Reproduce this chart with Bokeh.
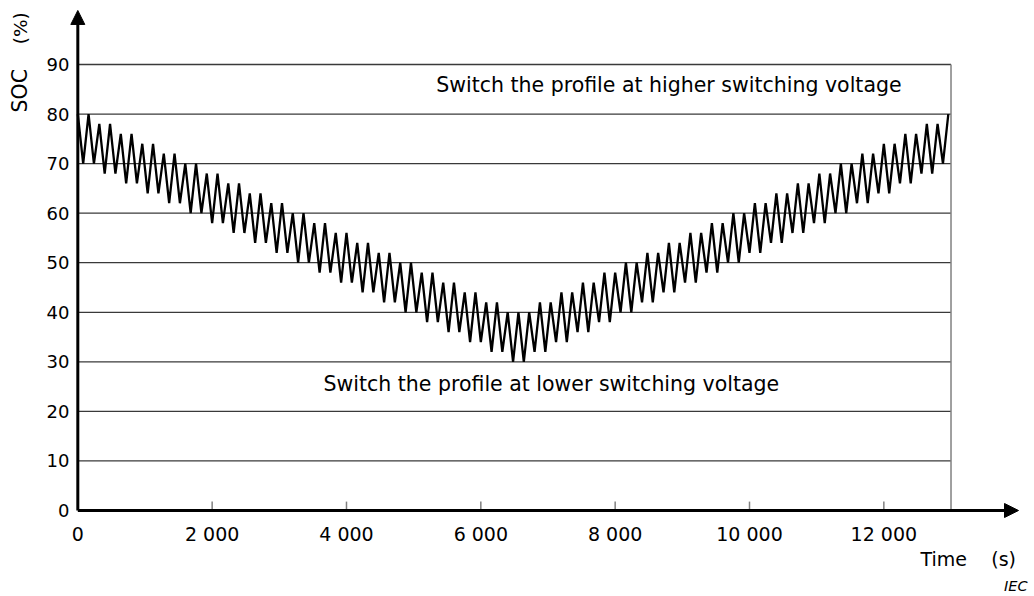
import math
from bokeh.plotting import figure
from bokeh.models import Range1d, Arrow, NormalHead
from bokeh.core.properties import value
from bokeh.embed import file_html
from bokeh.resources import INLINE

# ---------------- data ----------------
# SOC (%) at successive turning points of the profile, one every 80 s
sample_interval_s = 80
soc_descending = [
    80, 70, 80, 70, 78, 68, 78, 68, 76, 66, 76, 66, 74, 64, 74, 64,
    72, 62, 72, 62, 70, 60, 70, 60, 68, 58, 68, 58, 66, 56, 66, 56,
    64, 54, 64, 54, 62, 52, 62, 52, 60, 50, 60, 50, 58, 48, 58, 48,
    56, 46, 56, 46, 54, 44, 54, 44, 52, 42, 52, 42, 50, 40, 50, 40,
    48, 38, 48, 38, 46, 36, 46, 36, 44, 34, 44, 34, 42, 32, 42, 32,
    40, 30, 40, 30,
]
soc_ascending = [
    40,
    32, 42, 32, 42, 34, 44, 34, 44, 36, 46, 36, 46, 38, 48, 38, 48,
    40, 50, 40, 50, 42, 52, 42, 52, 44, 54, 44, 54, 46, 56, 46, 56,
    48, 58, 48, 58, 50, 60, 50, 60, 52, 62, 52, 62, 54, 64, 54, 64,
    56, 66, 56, 66, 58, 68, 58, 68, 60, 70, 60, 70, 62, 72, 62, 72,
    64, 74, 64, 74, 66, 76, 66, 76, 68, 78, 68, 78,
    70, 80,
]
soc = soc_descending + soc_ascending
time_s = [i * sample_interval_s for i in range(len(soc))]

test_duration_s = 13000
soc_gridlines = [10, 20, 30, 40, 50, 60, 70, 80, 90]
soc_ticks = [0, 10, 20, 30, 40, 50, 60, 70, 80, 90]
soc_tick_labels = ["0", "10", "20", "30", "40", "50", "60", "70", "80", "90"]
time_ticks = [0, 2000, 4000, 6000, 8000, 10000, 12000]
time_tick_labels = ["0", "2 000", "4 000", "6 000", "8 000", "10 000", "12 000"]

upper_note = "Switch the profile at higher switching voltage"
lower_note = "Switch the profile at lower switching voltage"

FONT = value("DejaVu Sans")

# ---------------- figure (frame covers the whole canvas) ----------------
p = figure(
    width=1034, height=596,
    output_backend="svg", toolbar_location=None,
    x_range=Range1d(-1151, 14243), y_range=Range1d(-17.35, 102.91),
    x_axis_location=None, y_axis_location=None,
    min_border_left=0, min_border_right=0, min_border_top=0, min_border_bottom=0,
)
p.outline_line_color = None
p.background_fill_color = "white"
p.border_fill_color = "white"
p.xgrid.visible = False
p.ygrid.visible = False

# gridlines up to the end of the test
p.segment(x0=[0] * len(soc_gridlines), y0=soc_gridlines,
          x1=[test_duration_s] * len(soc_gridlines), y1=soc_gridlines,
          line_color="#3a3a3a", line_width=1.3)
# right boundary
p.segment(x0=[test_duration_s], y0=[0], x1=[test_duration_s], y1=[soc_gridlines[-1]],
          line_color="#808080", line_width=1.5)
# small tick marks on the time axis
tick_len = 1.8
p.segment(x0=time_ticks[1:], y0=[0] * (len(time_ticks) - 1),
          x1=time_ticks[1:], y1=[tick_len] * (len(time_ticks) - 1),
          line_color="#808080", line_width=1.5)

# SOC profile
p.line(time_s, soc, line_color="black", line_width=2.3)

# axes with arrows
p.add_layout(Arrow(end=NormalHead(size=14, fill_color="black", line_color="black", line_width=1),
                   x_start=0, y_start=0, x_end=14005, y_end=0,
                   line_color="black", line_width=3))
p.add_layout(Arrow(end=NormalHead(size=14, fill_color="black", line_color="black", line_width=1),
                   x_start=0, y_start=0, x_end=0, y_end=100.9,
                   line_color="black", line_width=3))

# tick labels
y_label_x = -124
p.text(x=[y_label_x] * len(soc_ticks), y=soc_ticks, text=soc_tick_labels,
       text_align="right", text_baseline="middle", text_font=FONT,
       text_font_size="18px", text_color="black")
x_label_y = -4.8
p.text(x=time_ticks, y=[x_label_y] * len(time_ticks), text=time_tick_labels,
       text_align="center", text_baseline="middle", text_font=FONT,
       text_font_size="19px", text_color="black")

# annotations
p.text(x=[8800], y=[85.8], text=[upper_note], text_align="center",
       text_baseline="middle", text_font=FONT, text_font_size="20.5px",
       text_color="black")
p.text(x=[7050], y=[25.6], text=[lower_note], text_align="center",
       text_baseline="middle", text_font=FONT, text_font_size="20.5px",
       text_color="black")

# axis titles
p.text(x=[12546], y=[-9.7], text=["Time"], text_align="left",
       text_baseline="middle", text_font=FONT, text_font_size="19px",
       text_color="black")
p.text(x=[13600], y=[-9.7], text=["(s)"], text_align="left",
       text_baseline="middle", text_font=FONT, text_font_size="19px",
       text_color="black")
p.text(x=[-860], y=[84.7], text=["SOC"], angle=math.pi / 2,
       text_align="center", text_baseline="middle", text_font=FONT,
       text_font_size="20.5px", text_color="black")
p.text(x=[-860], y=[97.3], text=["(%)"], angle=math.pi / 2,
       text_align="center", text_baseline="middle", text_font=FONT,
       text_font_size="18.5px", text_color="black")
p.text(x=[13790], y=[-15.3], text=["IEC"], text_align="left",
       text_baseline="middle", text_font=FONT, text_font_style="italic",
       text_font_size="14.5px", text_color="black")

open("out.html", "w").write(file_html(p, INLINE))
